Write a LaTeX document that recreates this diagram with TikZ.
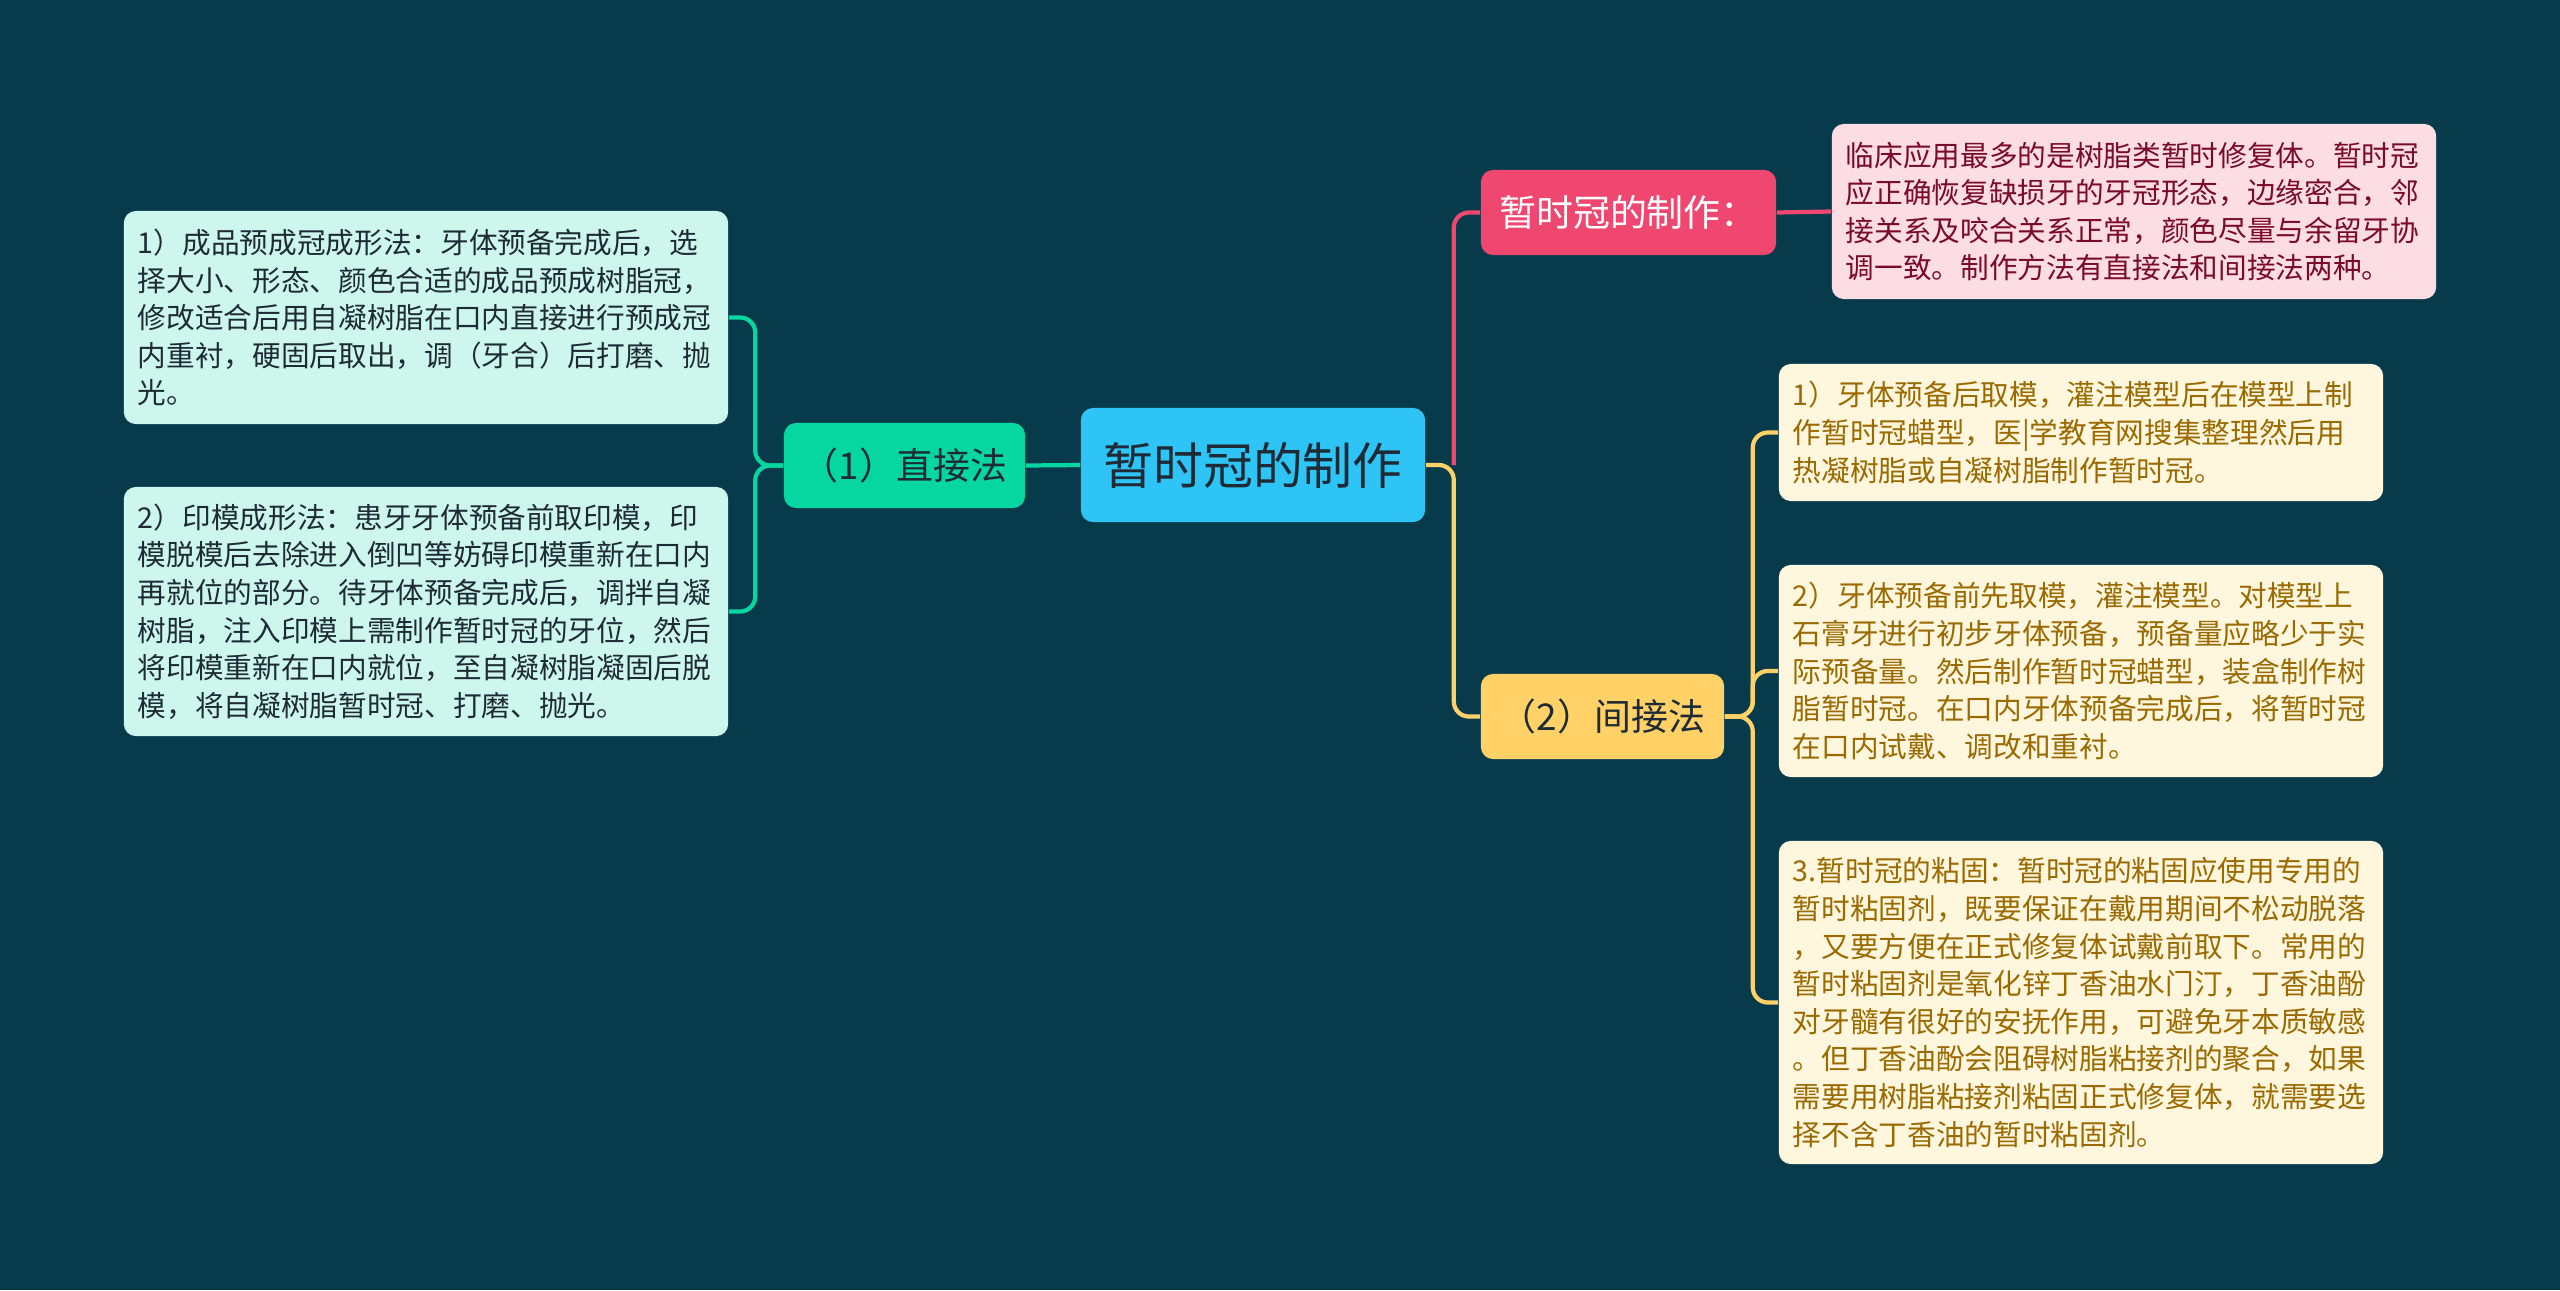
\documentclass[tikz,border=0pt]{standalone}
\usepackage{fontspec}
\setmainfont{Noto Sans CJK SC}
\usetikzlibrary{positioning,calc}
\definecolor{canvas}{HTML}{073B4C}
\definecolor{rootfill}{HTML}{2EC4F6}
\definecolor{mint}{HTML}{06D6A0}
\definecolor{mintlight}{HTML}{CDF7EC}
\definecolor{rose}{HTML}{EF476F}
\definecolor{roselight}{HTML}{FCDDE4}
\definecolor{roseink}{HTML}{7A0A2A}
\definecolor{sun}{HTML}{FFD166}
\definecolor{sunlight}{HTML}{FFF6DE}
\definecolor{sunink}{HTML}{9A6A00}
\definecolor{ink}{HTML}{1E2B36}

\begin{document}
\begin{tikzpicture}[x=0.01cm, y=-0.01cm,
  note/.style={rounded corners=0.12cm, inner xsep=0.14cm, inner ysep=0pt, align=left,
    text width=5.76cm, font=\fontsize{8.15pt}{10.7pt}\selectfont},
  topic/.style={rounded corners=0.12cm, inner sep=0pt, align=center, minimum height=0.85cm,
    font=\fontsize{10.5pt}{12pt}\selectfont},
  link/.style={line width=1.2pt, rounded corners=0.15cm}]

% ---------- canvas
\fill[canvas] (0,0) rectangle (2560,1290);

% ---------- centre and first level
\node[topic, fill=rootfill, text=ink, minimum width=3.44cm, minimum height=1.14cm,
  font=\fontsize{14.2pt}{16pt}\selectfont] (root) at (1253,465) {暂时冠的制作};
\node[topic, fill=mint, text=ink, minimum width=2.41cm] (direct) at (904.5,465.5) {（1）直接法};
\node[topic, fill=rose, text=white, minimum width=2.95cm] (make) at (1628.5,212.5) {暂时冠的制作：};
\node[topic, fill=sun, text=ink, minimum width=2.43cm] (indirect) at (1602.5,716.5) {（2）间接法};

% ---------- left notes
\node[note, fill=mintlight, text=ink, minimum height=2.13cm] (way1) at (426,317.5)
  {1）成品预成冠成形法：牙体预备完成后，选\\择大小、形态、颜色合适的成品预成树脂冠，\\修改适合后用自凝树脂在口内直接进行预成冠\\内重衬，硬固后取出，调（牙合）后打磨、抛\\光。};
\node[note, fill=mintlight, text=ink, minimum height=2.49cm] (way2) at (426,611.5)
  {2）印模成形法：患牙牙体预备前取印模，印\\模脱模后去除进入倒凹等妨碍印模重新在口内\\再就位的部分。待牙体预备完成后，调拌自凝\\树脂，注入印模上需制作暂时冠的牙位，然后\\将印模重新在口内就位，至自凝树脂凝固后脱\\模，将自凝树脂暂时冠、打磨、抛光。};

% ---------- right notes
\node[note, fill=roselight, text=roseink, minimum height=1.75cm] (desc) at (2134,211.5)
  {临床应用最多的是树脂类暂时修复体。暂时冠\\应正确恢复缺损牙的牙冠形态，边缘密合，邻\\接关系及咬合关系正常，颜色尽量与余留牙协\\调一致。制作方法有直接法和间接法两种。};
\node[note, fill=sunlight, text=sunink, minimum height=1.37cm] (step1) at (2081,432.5)
  {1）牙体预备后取模，灌注模型后在模型上制\\作暂时冠蜡型，医|学教育网搜集整理然后用\\热凝树脂或自凝树脂制作暂时冠。};
\node[note, fill=sunlight, text=sunink, minimum height=2.12cm] (step2) at (2081,671)
  {2）牙体预备前先取模，灌注模型。对模型上\\石膏牙进行初步牙体预备，预备量应略少于实\\际预备量。然后制作暂时冠蜡型，装盒制作树\\脂暂时冠。在口内牙体预备完成后，将暂时冠\\在口内试戴、调改和重衬。};
\node[note, fill=sunlight, text=sunink, minimum height=3.23cm] (step3) at (2081,1002.5)
  {3.暂时冠的粘固：暂时冠的粘固应使用专用的\\暂时粘固剂，既要保证在戴用期间不松动脱落\\，又要方便在正式修复体试戴前取下。常用的\\暂时粘固剂是氧化锌丁香油水门汀，丁香油酚\\对牙髓有很好的安抚作用，可避免牙本质敏感\\。但丁香油酚会阻碍树脂粘接剂的聚合，如果\\需要用树脂粘接剂粘固正式修复体，就需要选\\择不含丁香油的暂时粘固剂。};

% ---------- connectors
\draw[link, mint] (root.west) -- (direct.east);
\draw[link, mint] (direct.west) -- ++(-28,0) |- (way1.east);
\draw[link, mint] (direct.west) -- ++(-28,0) |- (way2.east);
\draw[link, rose] (root.east) ++(28,0) |- (make.west);
\draw[link, rose] (make.east) -- (desc.west);
\draw[link, sun] (root.east) -- ++(28,0) |- (indirect.west);
\foreach \s in {step1,step2,step3}{
  \draw[link, sun] (indirect.east) -- ++(28,0) |- (\s.west); }

\end{tikzpicture}
\end{document}
